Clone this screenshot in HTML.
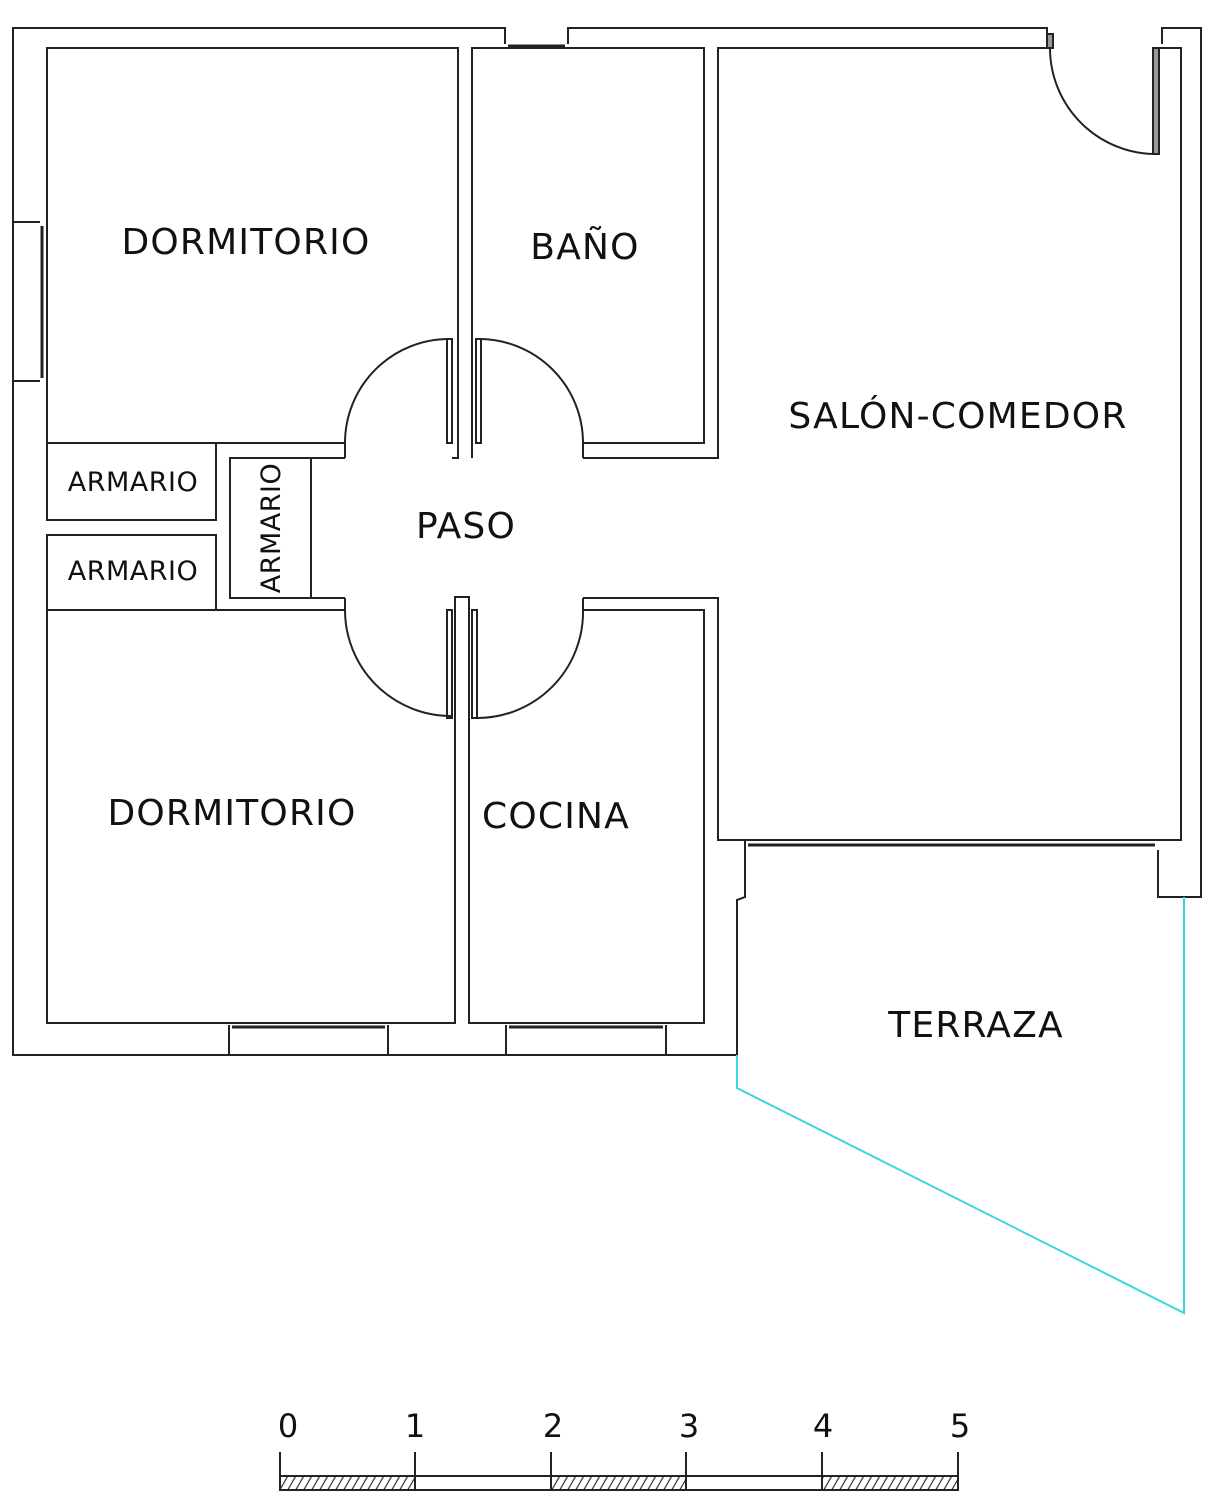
<!DOCTYPE html>
<html><head><meta charset="utf-8"><style>
html,body{margin:0;padding:0;background:#fff;}
svg{display:block;}
text{font-family:"DejaVu Sans","Liberation Sans",sans-serif;fill:#111;}
</style></head><body>
<svg width="1215" height="1500" viewBox="0 0 1215 1500" xmlns="http://www.w3.org/2000/svg">
<defs>
<pattern id="h" width="8" height="14" patternUnits="userSpaceOnUse" patternTransform="skewX(-30)">
<line x1="4" y1="0" x2="4" y2="14" stroke="#222" stroke-width="1.3"/>
</pattern>
</defs>
<g fill="none" stroke="#222" stroke-width="2">
<polyline points="1047,44 1047,28 568,28 568,44"/>
<polyline points="505,44 505,28 13,28 13,1055 737,1055"/>
<polyline points="1162,44 1162,28 1201,28 1201,897 1158,897 1158,850"/>
<line x1="13" y1="222" x2="40" y2="222"/><line x1="13" y1="381" x2="40" y2="381"/>
<line x1="42" y1="226" x2="42" y2="378" stroke-width="3"/>
<line x1="508" y1="46" x2="565" y2="46" stroke-width="3"/>
<polyline points="345,443 47,443 47,48 458,48 458,458 452,458"/>
<polyline points="472,458 472,48 704,48 704,443 583,443"/>
<polyline points="583,458 718,458 718,48 1048,48"/>
<polyline points="1153,48 1181,48 1181,840 718,840 718,598 583,598"/>
<polyline points="583,610 704,610 704,1023 469,1023 469,597 455,597 455,1023 47,1023 47,610 345,610"/>
<rect x="1047" y="34" width="6" height="14" fill="#999"/>
<rect x="1153" y="48" width="6" height="106" fill="#999"/>
<path d="M1050,48 A106,106 0 0 0 1156,154"/>
<rect x="47" y="443" width="169" height="77"/>
<rect x="47" y="535" width="169" height="75"/>
<polyline points="345,458 230,458 230,598 345,598"/>
<line x1="311" y1="458" x2="311" y2="598"/>
<line x1="345" y1="443" x2="345" y2="458"/><line x1="583" y1="443" x2="583" y2="458"/>
<line x1="345" y1="598" x2="345" y2="610"/><line x1="583" y1="598" x2="583" y2="610"/>
<rect x="447" y="339" width="5" height="104"/><rect x="476" y="339" width="5" height="104"/>
<path d="M449,339 A104,104 0 0 0 345,443"/>
<path d="M478,339 A104,104 0 0 1 583,443"/>
<rect x="447" y="610" width="5" height="108"/><rect x="472" y="610" width="5" height="108"/>
<path d="M345,610 A106,106 0 0 0 451,716"/>
<path d="M583,610 A106,106 0 0 1 474,718"/>
<polyline points="229,1055 229,1025"/><polyline points="388,1055 388,1025"/>
<line x1="232" y1="1027" x2="385" y2="1027" stroke-width="3"/>
<polyline points="506,1055 506,1025"/><polyline points="666,1055 666,1025"/>
<line x1="509" y1="1027" x2="663" y2="1027" stroke-width="3"/>
<line x1="748" y1="845" x2="1155" y2="845" stroke-width="3"/>
<polyline points="745,840 745,897 737,900 737,1055"/>
</g>
<polyline points="737,1055 737,1088 1184,1313 1184,897" fill="none" stroke="#3cd6dc" stroke-width="2"/>
<g font-size="36" text-anchor="middle" letter-spacing="1.2">
<text x="246" y="254">DORMITORIO</text>
<text x="585" y="259">BAÑO</text>
<text x="958" y="428">SALÓN-COMEDOR</text>
<text x="466" y="538">PASO</text>
<text x="232" y="825">DORMITORIO</text>
<text x="556" y="828">COCINA</text>
<text x="976" y="1037">TERRAZA</text>
</g>
<g font-size="27" text-anchor="middle" letter-spacing="0.5">
<text x="133" y="491">ARMARIO</text>
<text x="133" y="580">ARMARIO</text>
<text transform="translate(280,528) rotate(-90)">ARMARIO</text>
</g>
<g stroke="#222" stroke-width="2" fill="none">
<rect x="280" y="1476" width="678" height="14"/>
<rect x="280" y="1476" width="135" height="14" fill="url(#h)"/>
<rect x="551" y="1476" width="135" height="14" fill="url(#h)"/>
<rect x="822" y="1476" width="136" height="14" fill="url(#h)"/>
<line x1="280" y1="1452" x2="280" y2="1490"/><line x1="415" y1="1452" x2="415" y2="1490"/>
<line x1="551" y1="1452" x2="551" y2="1490"/><line x1="686" y1="1452" x2="686" y2="1490"/>
<line x1="822" y1="1452" x2="822" y2="1490"/><line x1="958" y1="1452" x2="958" y2="1490"/>
</g>
<g font-size="32" text-anchor="middle" style="font-family:'Liberation Sans',sans-serif">
<text x="288" y="1437">0</text><text x="415" y="1437">1</text><text x="553" y="1437">2</text>
<text x="689" y="1437">3</text><text x="823" y="1437">4</text><text x="960" y="1437">5</text>
</g>
</svg>
</body></html>
